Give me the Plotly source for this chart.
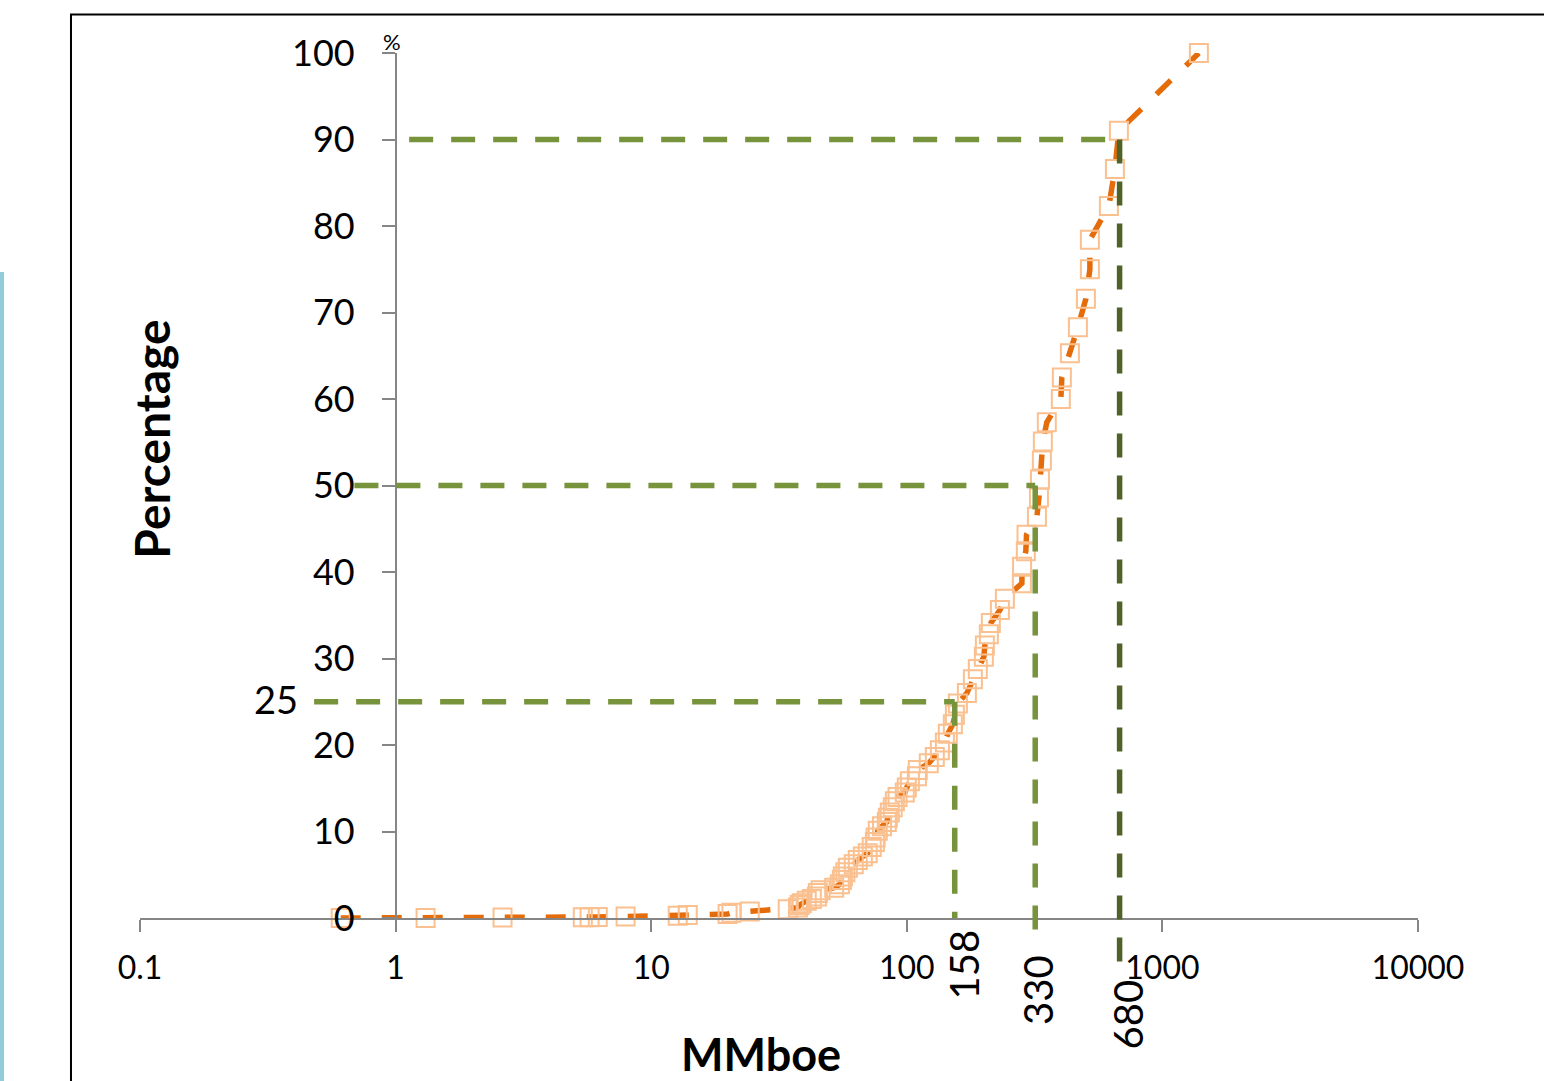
import math
import plotly.graph_objects as go

# ---- data ----
mmboe = [0.61, 1.31, 2.62, 5.40, 5.74, 6.18, 7.94, 12.7, 13.9, 19.9, 20.6, 24.3,
         34.2, 37.5, 38.1, 38.8, 40.6, 42.5, 44.5, 44.9, 46.0, 52.0, 54.7, 55.7,
         56.2, 57.5, 58.8, 62.0, 64.3, 67.3, 70.3, 72.9, 75.0, 75.5, 77.0, 80.0,
         83.5, 84.3, 85.8, 88.1, 89.8, 92.0, 98.2, 100.0, 102.8, 109.5, 110.4,
         121.9, 128.7, 134.7, 140.9, 144.7, 151.4, 154.2, 158.4, 171.8, 181.3,
         189.6, 200.2, 202.0, 209.4, 213.2, 231.3, 241.9, 282.0, 282.5, 292.2,
         294.0, 322.9, 328.8, 331.8, 337.6, 340.6, 353.0, 400.5, 404.2, 434.6,
         467.1, 502.0, 520.3, 520.3, 617.6, 651.9, 675.8, 1389]
percentage = [0.0, 0.0, 0.05, 0.08, 0.1, 0.12, 0.18, 0.25, 0.35, 0.45, 0.6, 0.75,
              1.0, 1.2, 1.5, 1.7, 2.0, 2.2, 2.5, 2.9, 3.2, 3.5, 3.9, 4.4,
              4.8, 5.3, 5.8, 6.2, 6.7, 7.1, 7.5, 8.2, 8.8, 9.3, 10.1, 10.6,
              11.1, 11.6, 12.2, 12.8, 13.5, 14.0, 14.5, 15.1, 15.8, 16.4, 17.1,
              17.9, 18.6, 19.4, 20.3, 21.3, 22.4, 23.5, 24.8, 26.0, 27.6,
              28.8, 30.2, 31.5, 32.8, 34.1, 35.6, 36.9, 38.7, 40.6, 42.4,
              44.3, 46.4, 48.6, 50.7, 52.9, 55.1, 57.3, 60.0, 62.5, 65.3,
              68.3, 71.6, 75.0, 78.4, 82.3, 86.6, 91.0, 100.0]

ref_pct = [25, 50, 90]            # percentiles marked
ref_mmboe = [158, 330, 680]       # corresponding volumes (label values)
ref_line_x = [154, 318, 680]      # where the vertical guides are actually drawn
ref_hline_start = [0.48, 0.69, 1.13]   # where the horizontal guides start (MMboe)
ref_vline_bottom = [0, -2.8, -5.4]     # where vertical guides end (percent units, below axis)
ref_label_center = [-5.4, -8.3, -11.2] # centre of the rotated value labels (percent units)
ref_label_shift = [9, 3, 8]
ref_vcolors = ["#77933C", "#77933C", "#4F6228"]

x_tickvals = [0.1, 1, 10, 100, 1000, 10000]
x_ticktext = ["0.1", "1", "10", "100", "1000", "10000"]
y_tickvals = [0, 10, 20, 30, 40, 50, 60, 70, 80, 90, 100]

FONT = "Lato"
GREEN = "#77933C"
DASH = "24px,18px"

fig = go.Figure()
fig.add_trace(go.Scatter(
    x=mmboe, y=percentage, mode="lines+markers",
    line=dict(color="#E46C0A", width=5.5, dash="20px,21px"),
    marker=dict(symbol="square-open", size=18, color="#FAC090",
                line=dict(color="#FAC090", width=2)),
    showlegend=False, cliponaxis=False,
))

shapes = []
# horizontal guides
for p, xs, xe in zip(ref_pct, ref_hline_start, ref_line_x):
    shapes.append(dict(type="line", xref="x", yref="y", x0=xs, x1=xe, y0=p, y1=p,
                       line=dict(color=GREEN, width=5.5, dash=DASH), layer="above"))
# vertical guides
for p, xv, yb, c in zip(ref_pct, ref_line_x, ref_vline_bottom, ref_vcolors):
    shapes.append(dict(type="line", xref="x", yref="paper", x0=xv, x1=xv,
                       y0=p / 100, y1=yb / 100,
                       line=dict(color=c, width=5.5, dash=DASH), layer="above"))
# outer frame and side bar
shapes.append(dict(type="rect", xref="paper", yref="paper",
                   x0=-0.054, x1=1.12, y0=-0.21, y1=1.0445,
                   line=dict(color="black", width=2), fillcolor="rgba(0,0,0,0)"))
shapes.append(dict(type="rect", xref="paper", yref="paper",
                   x0=-0.1096, x1=-0.1064, y0=-0.21, y1=0.7468,
                   line=dict(width=0), fillcolor="#92CDDC"))

annotations = []
annotations.append(dict(x=0, xref="x", y=1, yref="paper", text="%", showarrow=False,
                        xanchor="center", yanchor="bottom", xshift=-4, yshift=-4,
                        font=dict(family=FONT, size=22, color="black")))
annotations.append(dict(x=-0.384, xref="x", y=25, yref="y", text="25", showarrow=False,
                        xanchor="right", yanchor="middle", yshift=3, xshift=3,
                        font=dict(family=FONT, size=38, color="black")))
for xv, v, yc, sh in zip(ref_line_x, ref_mmboe, ref_label_center, ref_label_shift):
    annotations.append(dict(x=math.log10(xv), xref="x", y=yc / 100, yref="paper",
                            text=str(v), showarrow=False, textangle=-90,
                            xanchor="center", yanchor="middle", xshift=sh,
                            font=dict(family=FONT, size=40, color="black")))
annotations.append(dict(x=0.486, xref="paper", y=-0.1572, yref="paper", text="<b>MMboe</b>",
                        showarrow=False, xanchor="center", yanchor="middle",
                        font=dict(family=FONT, size=45, color="black")))
annotations.append(dict(x=0.0094, xref="paper", y=0.553, yref="paper", text="<b>Percentage</b>",
                        showarrow=False, textangle=-90, xanchor="center", yanchor="middle",
                        font=dict(family=FONT, size=48, color="black")))

fig.update_layout(
    width=1544, height=1081,
    margin=dict(l=140, r=126, t=53, b=163),
    paper_bgcolor="white", plot_bgcolor="white",
    font=dict(family=FONT, color="black"),
    showlegend=False,
    shapes=shapes, annotations=annotations,
    xaxis=dict(type="log", range=[-1, 4], tickvals=x_tickvals, ticktext=x_ticktext,
               showgrid=False, zeroline=False, showline=True, linecolor="#868686",
               linewidth=1.5, ticks="outside", ticklen=12, tickcolor="#868686",
               tickwidth=1.5, tickfont=dict(family=FONT, size=32, color="black"),
               ticklabelstandoff=9),
    yaxis=dict(range=[0, 100], tickvals=y_tickvals, showgrid=False, zeroline=False,
               showline=True, linecolor="#868686", linewidth=1.5, ticks="outside",
               ticklen=13, tickcolor="#868686", tickwidth=1.5,
               anchor="free", position=0.2, side="left",
               tickfont=dict(family=FONT, size=36, color="black"),
               ticklabelstandoff=20),
)

fig.write_html("out.html")
